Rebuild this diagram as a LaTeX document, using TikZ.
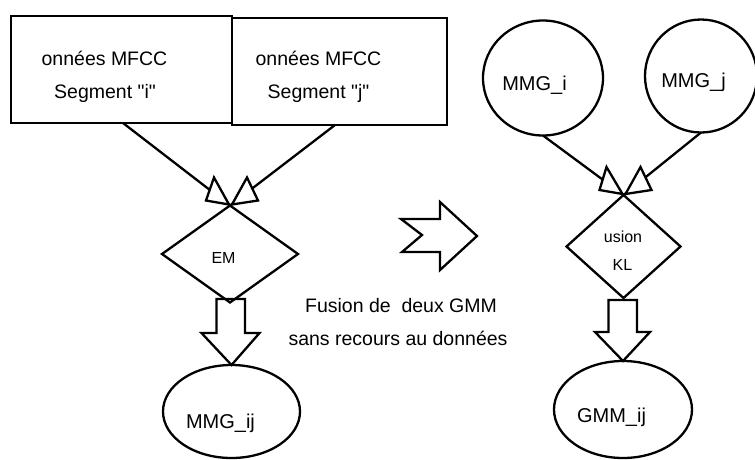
\documentclass[tikz,border=0pt]{standalone}
\usepackage{fontspec}
\setmainfont{Liberation Sans}[Ligatures=TeXOff]
\usetikzlibrary{shapes.geometric,calc}
\begin{document}
\begin{tikzpicture}[x=1pt,y=-1pt,
  shp/.style={draw, line width=2.3pt, inner sep=0pt, outer sep=0pt},
  sbox/.style={shp, rectangle},
  oval/.style={shp, ellipse},
  dia/.style={shp, diamond},
  txt/.style={inner sep=0pt, anchor=base, text=black},
  bigtxt/.style={txt, font=\fontsize{20}{24}\selectfont},
  midtxt/.style={txt, font=\fontsize{19.5}{23}\selectfont},
  smalltxt/.style={txt, font=\fontsize{16}{19}\selectfont},
  link/.style={draw, line width=2.3pt},
  trihead/.style={draw, line width=2.3pt, fill=white, line join=miter},
  blockarrow/.style={draw, line width=2.3pt, line join=miter}
]
\useasboundingbox (0,0) rectangle (755,459);

% left column shapes
\node[sbox, minimum width=221, minimum height=107] (b1) at (121.5,69.5) {};
\node[sbox, minimum width=215, minimum height=107] (b2) at (339.5,71.5) {};
\node[dia, minimum width=136, minimum height=97] (em) at (230,254) {};
\node[oval, minimum width=137, minimum height=93] (mij) at (231.5,411.5) {};

% right column shapes
\node[oval, minimum width=120, minimum height=115] (mi) at (543,78) {};
\node[oval, minimum width=112, minimum height=113] (mj) at (701,76) {};
\node[dia, minimum width=114, minimum height=103] (kl) at (623.5,246.5) {};
\node[oval, minimum width=138, minimum height=97] (gij) at (623,409.5) {};

% texts
\node[midtxt] (t1a) at (104.5,65) {onnées MFCC};
\node[midtxt] (t1b) at (105,98) {Segment "i"};
\node[midtxt] (t2a) at (318.5,65) {onnées MFCC};
\node[midtxt] (t2b) at (318.5,98) {Segment "j"};
\node[smalltxt] (tem) at (223.5,263) {EM};
\node[bigtxt] (tmij) at (220.5,428) {MMG\_ij};
\node[bigtxt] (tmi) at (534.5,90) {MMG\_i};
\node[bigtxt] (tmj) at (693.5,87) {MMG\_j};
\node[smalltxt] (tkl1) at (623,242) {usion};
\node[smalltxt] (tkl2) at (622.5,270) {KL};
\node[bigtxt] (tgij) at (611.5,422) {GMM\_ij};
\node[midtxt] (tf1) at (401,312) {Fusion de\ \ deux GMM};
\node[midtxt] (tf2) at (398,345) {sans recours au données};

% connectors left
\draw[link] ([xshift=1.5pt]b1.south) -- (em.north);
\draw[link] ([xshift=-4.5pt]b2.south) -- (em.north);
\draw[trihead] ([shift={(-16,-28)}]em.north) -- ([shift={(-24,-5)}]em.north) -- ([shift={(-1,-1)}]em.north) -- cycle;
\draw[trihead] ([shift={(17,-28)}]em.north) -- ([shift={(2,-1)}]em.north) -- ([shift={(28,-5)}]em.north) -- cycle;
\draw[blockarrow] ([shift={(-13.5,-3.5)}]em.south) -- ([shift={(-13.5,30.5)}]em.south)
  -- ([shift={(-28.5,30.5)}]em.south) -- (mij.north) -- ([shift={(29.5,30.5)}]em.south)
  -- ([shift={(15,30.5)}]em.south) -- ([shift={(15,-3.5)}]em.south) -- cycle;

% connectors right
\draw[link] (mi.south) -- (kl.north);
\draw[link] (mj.south) -- (kl.north);
\draw[trihead] ([shift={(-17,-28)}]kl.north) -- ([shift={(-24,-5)}]kl.north) -- ([shift={(-1,-1)}]kl.north) -- cycle;
\draw[trihead] ([shift={(17,-28)}]kl.north) -- ([shift={(2,-1)}]kl.north) -- ([shift={(28,-5)}]kl.north) -- cycle;
\draw[blockarrow] ([shift={(-15,2)}]kl.south) -- ([shift={(-15,34)}]kl.south)
  -- ([shift={(-28.5,34)}]kl.south) -- (gij.north) -- ([shift={(26.5,34)}]kl.south)
  -- ([shift={(13.5,34)}]kl.south) -- ([shift={(13.5,2)}]kl.south) -- cycle;

% middle notched arrow
\draw[blockarrow] (401,219) -- (440,219) -- (440,202) -- (477,236) -- (440,270)
  -- (440,252) -- (402,252) -- (422,235) -- cycle;
\end{tikzpicture}
\end{document}
